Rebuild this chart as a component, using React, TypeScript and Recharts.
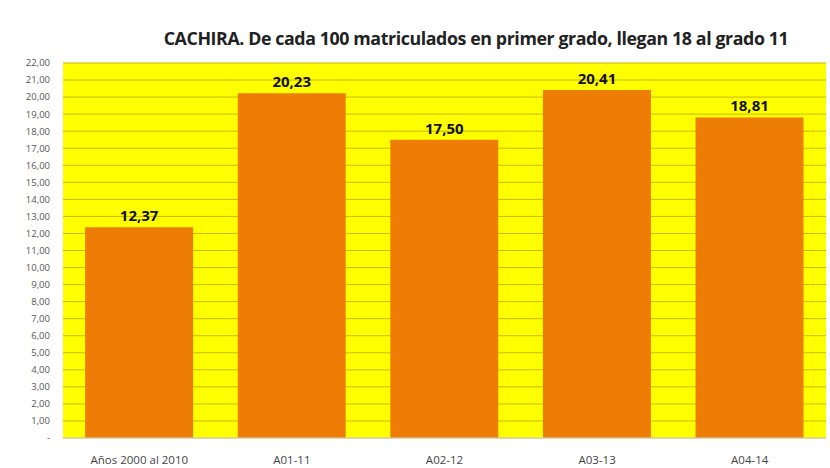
import { Bar, BarChart, CartesianGrid, LabelList, XAxis, YAxis } from "recharts";

const categories = ["Años 2000 al 2010", "A01-11", "A02-12", "A03-13", "A04-14"];
const values = [12.37, 20.23, 17.5, 20.41, 18.81];
const yTicks = [0, 1, 2, 3, 4, 5, 6, 7, 8, 9, 10, 11, 12, 13, 14, 15, 16, 17, 18, 19, 20, 21, 22];

const data = categories.map((name, i) => ({ name, value: values[i] }));

const fmt = (v: number) => (v === 0 ? "-" : v.toFixed(2).replace(".", ","));

export default function App() {
  return (
    <div style={{ width: 830, height: 468, background: "#fff", position: "relative", fontFamily: "'Open Sans', sans-serif" }}>
      <style>{"body{margin:0}"}</style>
      <div
        style={{
          position: "absolute",
          top: 26,
          left: 136,
          width: 680,
          textAlign: "center",
          fontSize: 17.8,
          fontWeight: 700,
          color: "#222",
          letterSpacing: -0.4,
          whiteSpace: "nowrap",
        }}
      >
        CACHIRA. De cada 100 matriculados en primer grado, llegan 18 al grado 11
      </div>
      <BarChart
        width={830}
        height={468}
        data={data}
        margin={{ top: 63, right: 4, left: 0, bottom: 0 }}
        barCategoryGap="14.5%"
      >
        <CartesianGrid vertical={false} stroke="#C9B800" strokeWidth={1} fill="#FFFF00" />
        <XAxis
          dataKey="name"
          height={30}
          tickLine={false}
          axisLine={{ stroke: "#D8D8D8" }}
          tick={{ fontSize: 11.5, fill: "#444" }}
          tickMargin={12}
        />
        <YAxis
          width={63}
          domain={[0, 22]}
          ticks={yTicks}
          interval={0}
          tickFormatter={fmt}
          tickLine={false}
          axisLine={false}
          tick={{ fontSize: 9.5, fill: "#555" }}
          tickMargin={7}
        />
        <Bar dataKey="value" fill="#EE7D05" isAnimationActive={false}>
          <LabelList
            dataKey="value"
            position="top"
            offset={6}
            formatter={(v: any) => fmt(Number(v))}
            style={{ fontSize: 15, fontWeight: 700, fill: "#111" }}
          />
        </Bar>
      </BarChart>
    </div>
  );
}
